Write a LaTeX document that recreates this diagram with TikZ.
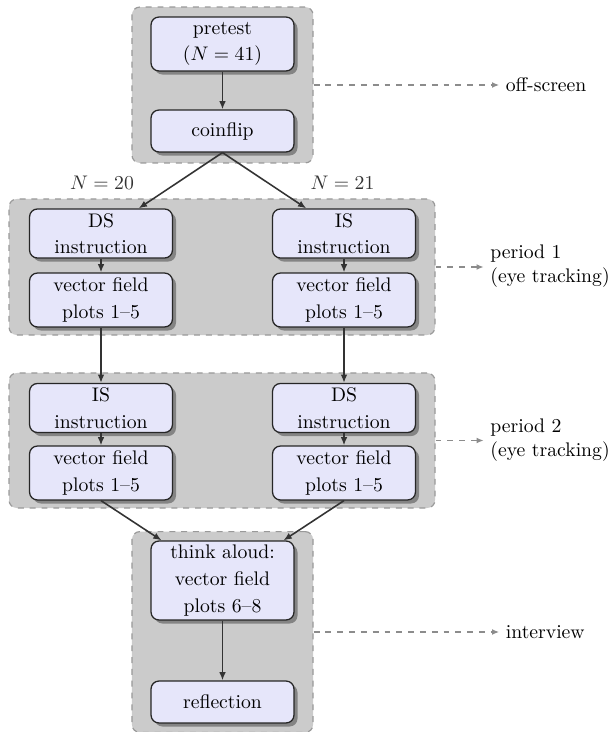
\documentclass[tikz,border=0pt]{standalone}
\usetikzlibrary{shadows,arrows.meta}
\definecolor{nodefill}{HTML}{E6E6FA}
\definecolor{groupfill}{HTML}{CBCBCB}
\definecolor{groupline}{HTML}{999999}
\definecolor{arrline}{HTML}{333333}
\definecolor{dashline}{HTML}{8C8C8C}
\tikzset{
  box/.style={draw=black!85, line width=0.65pt, fill=nodefill, rounded corners=4pt,
    minimum width=72.6pt, align=center, inner sep=2pt,
    font=\fontsize{10}{13.5}\selectfont,
    drop shadow={shadow xshift=1.8pt, shadow yshift=-1.8pt, fill=black, opacity=0.35}},
  grp/.style={draw=groupline, dashed, line width=0.6pt, fill=groupfill, rounded corners=4pt, inner sep=0pt},
  flow/.style={draw=arrline, line width=0.8pt, -{Latex[length=4.2pt,width=3.4pt]}},
  side/.style={draw=dashline, dashed, line width=0.6pt, -{Latex[length=3.5pt,width=3pt]}},
  lab/.style={align=left, font=\fontsize{10}{12}\selectfont, inner sep=3.3pt, anchor=west},
  nlab/.style={text=black!80, font=\fontsize{10}{12}\selectfont}
}
\begin{document}
\begin{tikzpicture}[x=0.508pt, y=-0.508pt]
\useasboundingbox (0,0) rectangle (611,732);
% groups
\node[grp, minimum width=92pt, minimum height=79.2pt] (g1) at (222.5,85) {};
\node[grp, minimum width=216.4pt, minimum height=69.1pt] (g2) at (222,267) {};
\node[grp, minimum width=216.4pt, minimum height=68.6pt] (g3) at (222,440.5) {};
\node[grp, minimum width=92pt, minimum height=102pt] (g4) at (222.5,632) {};
% nodes
\node[box, minimum height=27.4pt] (pre) at (222.5,44) {pretest\\($N=41$)};
\node[box, minimum height=21.3pt] (coin) at (222.5,131) {coinflip};
\node[box, minimum height=24.9pt] (ds1) at (101,233.5) {DS\\instruction};
\node[box, minimum height=27.4pt] (vf1) at (101,300) {vector field\\plots 1--5};
\node[box, minimum height=24.9pt] (is1) at (344,233.5) {IS\\instruction};
\node[box, minimum height=27.4pt] (vf2) at (344,300) {vector field\\plots 1--5};
\node[box, minimum height=24.9pt] (is2) at (101,408) {IS\\instruction};
\node[box, minimum height=27.4pt] (vf3) at (101,473) {vector field\\plots 1--5};
\node[box, minimum height=24.9pt] (ds2) at (344,408) {DS\\instruction};
\node[box, minimum height=27.4pt] (vf4) at (344,473) {vector field\\plots 1--5};
\node[box, minimum height=40.1pt] (think) at (222.5,580.5) {think aloud:\\vector field\\plots 6--8};
\node[box, minimum height=21.3pt] (refl) at (222.5,702) {reflection};
% N labels
\node[nlab] (n20) at (102,183) {$N=20$};
\node[nlab] (n21) at (342.5,183) {$N=21$};
% side labels
\node[lab] (off) at (499,85) {off-screen};
\node[lab] (p1) at (483.5,266) {period 1\\(eye tracking)};
\node[lab] (p2) at (483.5,440) {period 2\\(eye tracking)};
\node[lab] (intv) at (499,632) {interview};
% flow arrows
\draw[flow] (pre) -- (coin);
\draw[flow] (coin.south) -- (ds1);
\draw[flow] (coin.south) -- (is1);
\draw[flow] (ds1) -- (vf1);
\draw[flow] (is1) -- (vf2);
\draw[flow] (vf1) -- (is2);
\draw[flow] (vf2) -- (ds2);
\draw[flow] (is2) -- (vf3);
\draw[flow] (ds2) -- (vf4);
\draw[flow] (vf3.south) -- (think);
\draw[flow] (vf4.south) -- (think);
\draw[flow] (think) -- (refl);
% side arrows
\draw[side] (g1.east) -- (off.west);
\draw[side] (g2.east) -- (g2.east -| p1.west);
\draw[side] (g3.east) -- (g3.east -| p2.west);
\draw[side] (g4.east) -- (intv.west);
\end{tikzpicture}
\end{document}
